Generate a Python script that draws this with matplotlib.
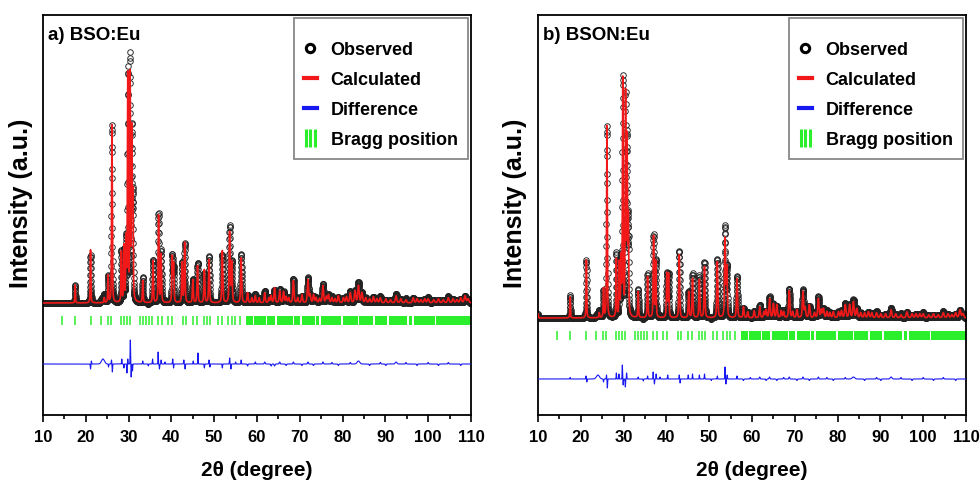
import numpy as np
import matplotlib
matplotlib.use("Agg")
import matplotlib.pyplot as plt
from matplotlib.lines import Line2D
from matplotlib.legend_handler import HandlerTuple
from matplotlib.ticker import MultipleLocator

plt.rcParams["font.family"] = ["Liberation Sans", "DejaVu Sans"]
plt.rcParams["font.weight"] = "bold"
plt.rcParams["axes.labelweight"] = "bold"

# --- values (intensity in a.u., background = 0) --------------------------------------
# a) BSO:Eu  reflections: 2theta, peak height
peaks_a_pos = [17.5, 21.1, 24.3, 25.2, 26.1, 28.3, 28.9, 29.4, 29.8, 30.35, 30.75, 31.0,
               33.3, 35.7, 37.0, 37.6, 40.2, 40.5, 42.5, 43.1, 45.0, 46.1, 47.7, 48.8,
               51.9, 53.6, 54.1, 56.3, 57.8, 58.8, 59.6, 60.5, 61.8, 62.8, 63.3, 64.1,
               65.3, 66.2, 66.8, 67.4, 68.5, 69.5, 70.5, 71.9, 72.4, 73.2, 73.8, 74.6,
               75.4, 76.2, 76.7, 77.5, 78.2, 79.0, 80.2, 80.9, 81.8, 82.9, 83.7, 84.5,
               85.4, 86.3, 87.2, 88.0, 88.8, 90.1, 91.2, 92.5, 93.6, 94.8, 96.5, 97.4,
               98.3, 99.2, 100.0, 101.3, 102.4, 103.5, 104.7, 105.8, 106.7, 107.6, 108.6,
               109.3]
peaks_a_int = [18, 53, 5, 27, 178, 50, 55, 60, 225, 225, 165, 100,
               22, 42, 87, 48, 45, 38, 40, 60, 23, 37, 33, 43,
               52, 70, 40, 45, 10, 5, 7, 5, 10, 5, 7, 15,
               12, 11, 6, 5, 22, 5, 8, 23, 8, 8, 5, 4,
               17, 6, 8, 5, 4, 7, 5, 6, 10, 12, 17, 10,
               5, 4, 6, 4, 5, 4, 3, 7, 4, 3, 5, 4,
               3, 4, 4, 3, 4, 3, 5, 4, 3, 5, 7,
               4]
# difference curve features: 2theta, amplitude, width
diff_a_pos = [21.1, 21.3, 24.0, 25.3, 26.0, 26.2, 28.4, 28.9, 29.6, 29.8, 30.4, 30.6,
              30.9, 33.3, 34.6, 35.6, 36.9, 37.2, 37.6, 38.5, 40.3, 40.5, 42.9, 43.2,
              45.1, 46.2, 47.7, 48.8, 49.0, 51.9, 53.6, 53.9, 55.0, 56.3, 57.8, 59.6,
              61.8, 63.3, 64.1, 65.3, 66.8, 68.5, 70.5, 71.9, 73.2, 75.4, 77.5, 79.0,
              81.8, 83.7, 86.3, 88.8, 90.1, 92.5, 94.8, 97.4, 100.0, 102.4, 104.7, 107.6]
diff_a_amp = [-5, 3, 5, -3, 4, -8, 5, -4, -9, 5, 24, -13,
              -7, 3, -2, 5, 12, -5, 4, 2, 5, -4, 4, -5,
              3, 11, -4, 4, -3, -4, 6, -5, 2, 4, -2, 2,
              2, -2, -2, 2, -1.5, 2, -1.5, 2, -1.5, 2, 1.5, -1.5,
              1.5, 3, -1.5, 1.5, -1.5, 2, 1.5, -1.5, 1.5, -1.5, 1.5, -1.5]
diff_a_wid = [0.05, 0.05, 0.35, 0.05, 0.05, 0.05, 0.05, 0.05, 0.05, 0.05, 0.05, 0.05,
              0.05, 0.05, 0.05, 0.05, 0.05, 0.05, 0.05, 0.05, 0.05, 0.05, 0.05, 0.05,
              0.05, 0.05, 0.05, 0.05, 0.05, 0.05, 0.05, 0.05, 0.05, 0.05, 0.08, 0.08,
              0.1, 0.1, 0.1, 0.1, 0.1, 0.1, 0.1, 0.1, 0.1, 0.1, 0.1, 0.1,
              0.1, 0.3, 0.1, 0.1, 0.1, 0.2, 0.1, 0.1, 0.1, 0.1, 0.1, 0.1]

# b) BSON:Eu
peaks_b_pos = [10.0, 17.5, 21.3, 24.3, 25.3, 26.1, 28.3, 29.0, 29.4, 29.8, 30.45, 30.8,
               31.1, 33.4, 35.6, 37.0, 37.5, 40.1, 40.5, 43.0, 45.2, 46.1, 47.7, 48.9,
               51.9, 53.7, 54.1, 56.5, 58.0, 59.0, 60.5, 61.8, 62.8, 63.3, 64.1, 65.0,
               65.8, 66.8, 67.4, 68.7, 69.5, 70.5, 71.9, 72.4, 73.4, 74.6, 75.5, 76.2,
               76.7, 77.5, 78.2, 79.0, 80.2, 80.9, 81.8, 82.8, 83.7, 84.5, 85.4, 86.3,
               87.2, 88.0, 89.1, 90.1, 91.2, 92.5, 93.6, 94.8, 96.2, 97.4, 98.3, 99.2,
               100.0, 101.3, 102.4, 103.5, 104.7, 105.8, 106.7, 107.6, 108.6, 109.3]
peaks_b_int = [4, 21, 58, 5, 29, 192, 58, 53, 55, 236, 220, 172,
               95, 26, 41, 81, 56, 44, 43, 63, 26, 39, 38, 51,
               56, 78, 49, 39, 11, 6, 7, 11, 6, 8, 19, 14,
               13, 7, 6, 27, 6, 8, 26, 10, 13, 5, 19, 8,
               9, 6, 5, 6, 6, 7, 13, 13, 16, 9, 5, 5,
               6, 5, 5, 4, 4, 8, 4, 3, 6, 4, 4, 4,
               4, 3, 4, 3, 5, 4, 3, 5, 8, 4]
diff_b_pos = [17.5, 21.2, 21.4, 24.0, 25.3, 26.0, 26.2, 28.3, 28.9, 29.7, 29.9, 30.4,
              30.7, 33.4, 34.6, 35.6, 36.9, 37.2, 37.6, 38.5, 40.3, 43.0, 43.2, 45.1,
              46.1, 47.7, 48.9, 50.5, 51.9, 53.7, 53.9, 54.2, 56.5, 58.0, 59.6, 61.8,
              63.3, 64.1, 65.8, 67.4, 68.7, 70.5, 71.9, 73.4, 75.5, 77.5, 79.0, 81.8,
              83.7, 86.3, 89.1, 90.1, 92.5, 94.8, 97.4, 100.0, 102.4, 104.7, 107.6]
diff_b_amp = [1.5, 3, -3, 4, -3, 4, -9, 6, 5, 14, -6, -8,
              6, 2, -2, 3, 7, -5, 5, 2, 4, 4, -4, 4,
              5, 4, 5, -1.5, 3, 12, -5, 4, 3, -1.5, 1.5, 2,
              -1.5, 2, -1.5, 1.5, 2, -1.5, 2, -1.5, 2, 1.5, -1.5, 1.5,
              2, -1.5, 1.5, -1.5, 2, 1.5, -1.5, 1.5, -1.5, 1.5, -1.5]
diff_b_wid = [0.05, 0.05, 0.05, 0.35, 0.05, 0.05, 0.05, 0.05, 0.05, 0.05, 0.05, 0.05,
              0.05, 0.05, 0.05, 0.05, 0.05, 0.05, 0.05, 0.05, 0.05, 0.05, 0.05, 0.05,
              0.05, 0.05, 0.05, 0.05, 0.05, 0.05, 0.05, 0.05, 0.05, 0.08, 0.08, 0.1,
              0.1, 0.1, 0.1, 0.1, 0.1, 0.1, 0.1, 0.1, 0.1, 0.1, 0.1, 0.1,
              0.3, 0.1, 0.1, 0.1, 0.2, 0.1, 0.1, 0.1, 0.1, 0.1, 0.1]

# Bragg reflections (same structure in both samples)
bragg_pos = [14.5, 17.4, 21.1, 23.6, 25.1, 25.9, 28.3, 28.9, 29.6, 30.4, 32.7, 33.3,
             34.0, 34.7, 35.5, 36.9, 37.7, 39.2, 40.2, 42.6, 43.3, 45.1, 45.9, 47.5,
             48.3, 49.1, 51.0, 51.8, 53.3, 54.1, 54.9, 56.0]
bragg_bands = [(57.5, 59.0), (59.4, 62.0), (62.4, 64.3), (64.6, 68.3), (68.7, 70.0),
               (70.4, 73.5), (73.9, 74.6), (75.0, 79.6), (80.0, 83.5), (83.9, 87.2),
               (87.6, 90.4), (90.8, 95.0), (95.5, 96.3), (96.7, 101.5), (101.9, 110.0)]

STEP = 0.02
DIFF_OFFSET = -61
BRAGG_Y = (-22, -13)
RED, BLUE, GREEN = "#f01818", "#1818f0", "#2bef2b"


def calc_profile(x, pos, amp, eta=0.5):
    y = np.zeros_like(x)
    for p, a in zip(pos, amp):
        w = 0.14 + 0.003 * (p - 10)
        u = (x - p) / w
        y += a * (eta / (1 + 4 * u ** 2) + (1 - eta) * np.exp(-4 * np.log(2) * u ** 2))
    return y


def diff_profile(x, pos, amp, wid):
    y = np.zeros_like(x)
    for p, a, s in zip(pos, amp, wid):
        y += a * np.exp(-0.5 * ((x - p) / s) ** 2)
    return y


def panel(ax, label, ylim, ylab_x, pk_pos, pk_int, d_pos, d_amp, d_wid):
    x = np.arange(10, 110 + STEP / 2, STEP)
    calc = calc_profile(x, pk_pos, pk_int)
    diff = diff_profile(x, d_pos, d_amp, d_wid)
    obs = calc + diff

    ax.plot(x, obs, "o", ls="none", ms=4.0, mfc="none", mec="#222222", mew=0.65, zorder=2)
    ax.plot(x, calc, "-", color=RED, lw=1.2, zorder=3)
    ax.plot(x, diff + DIFF_OFFSET, "-", color=BLUE, lw=0.8, zorder=3)
    ax.vlines(bragg_pos, *BRAGG_Y, color=GREEN, lw=1.1, zorder=2)
    ax.broken_barh([(s, e - s) for s, e in bragg_bands],
                   (BRAGG_Y[0], BRAGG_Y[1] - BRAGG_Y[0]), color=GREEN, lw=0, zorder=2)

    ax.set_xlim(10, 110)
    ax.set_ylim(*ylim)
    ax.xaxis.set_major_locator(MultipleLocator(10))
    ax.xaxis.set_minor_locator(MultipleLocator(5))
    ax.tick_params(axis="x", which="both", direction="out", top=False, labelsize=12,
                   width=1.2, pad=6)
    ax.tick_params(axis="x", which="major", length=5)
    ax.tick_params(axis="x", which="minor", length=3)
    for t in ax.get_xticklabels():
        t.set_fontweight("bold")
    ax.set_yticks([])
    for sp in ax.spines.values():
        sp.set_linewidth(1.3)
    ax.set_xlabel("2\u03b8 (degree)", fontsize=15, fontweight="bold", labelpad=11)
    ax.set_ylabel("Intensity (a.u.)", fontsize=18, fontweight="bold")
    ax.yaxis.set_label_coords(ylab_x, 0.53)
    ax.text(0.012, 0.948, label, transform=ax.transAxes, fontsize=13.5,
            fontweight="bold", ha="left", va="center")

    handles = [
        Line2D([], [], marker="o", ls="none", mfc="none", mec="black", mew=2.2, ms=6),
        Line2D([], [], color=RED, lw=3),
        Line2D([], [], color=BLUE, lw=3),
        tuple(Line2D([], [], marker="|", ls="none", color=GREEN, ms=13, mew=2.2)
              for _ in range(3)),
    ]
    leg = ax.legend(handles, ["Observed", "Calculated", "Difference", "Bragg position"],
                    loc="upper right", bbox_to_anchor=(0.992, 0.993), borderaxespad=0,
                    prop={"size": 13, "weight": "bold"},
                    title=" ", title_fontsize=1,
                    frameon=True, fancybox=False, edgecolor="#888888", framealpha=1,
                    handlelength=0.75, handletextpad=0.75, labelspacing=0.72,
                    borderpad=0.55,
                    handler_map={tuple: HandlerTuple(ndivide=None, pad=0.0)})
    leg.get_frame().set_linewidth(1.3)


fig = plt.figure(figsize=(9.8, 4.82), dpi=100)
ax_a = fig.add_axes([0.0439, 0.139, 0.4367, 0.830])
ax_b = fig.add_axes([0.549, 0.139, 0.4367, 0.830])
panel(ax_a, "a) BSO:Eu", (-112, 288), -0.023, peaks_a_pos, peaks_a_int,
      diff_a_pos, diff_a_amp, diff_a_wid)
panel(ax_b, "b) BSON:Eu", (-97, 303), -0.026, peaks_b_pos, peaks_b_int,
      diff_b_pos, diff_b_amp, diff_b_wid)

fig.savefig("out.png", dpi=100)
